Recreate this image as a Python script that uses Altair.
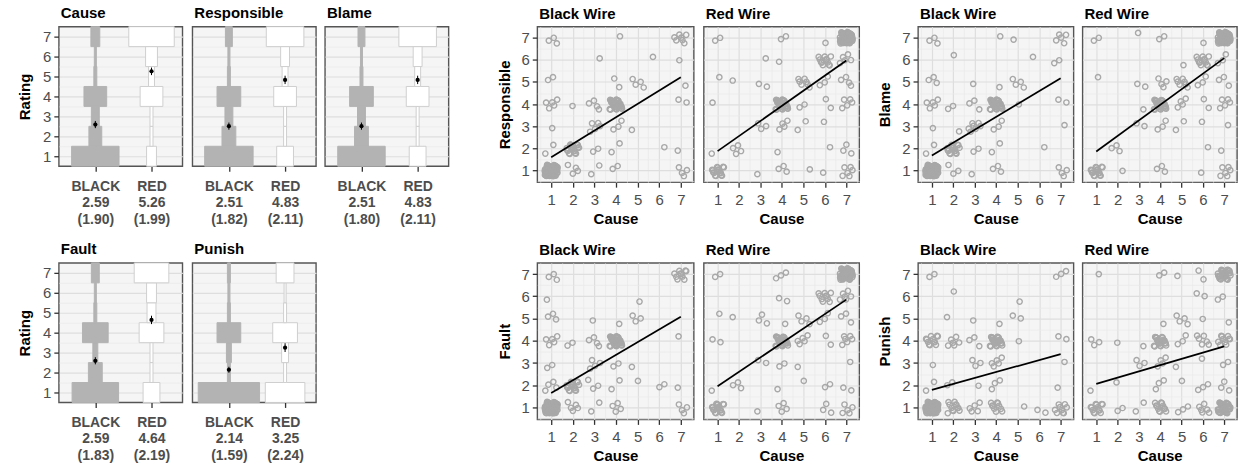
import json
import altair as alt
import pandas as pd

FONT = "Liberation Sans"
LABEL_GRAY = "#4d4d4d"
MAJOR = "#dedede"
MINOR = "#eaeaea"

levels = [1, 2, 3, 4, 5, 6, 7]
conditions = ["BLACK", "RED"]

# ---- left panels: histogram-violin widths (relative counts) per rating level 1..7
cause_black = [48, 13, 8, 23, 3, 2, 9]
cause_red = [10, 3, 3, 23, 6, 12, 46]
resp_black = [49, 14, 8, 24, 3, 2, 7]
resp_red = [17, 3, 3, 23, 6, 9, 38]
blame_black = [48, 14, 8, 24, 3, 2, 7]
blame_red = [17, 3, 3, 23, 6, 9, 38]
fault_black = [47, 14, 5, 26, 3, 2, 8]
fault_red = [17, 3, 3, 25, 9, 10, 35]
punish_black = [62, 3, 5, 24, 3, 2, 3]
punish_red = [40, 3, 7, 25, 3, 2, 18]

cause_mean, cause_sd, cause_se = [2.59, 5.26], [1.90, 1.99], [0.18, 0.19]
resp_mean, resp_sd, resp_se = [2.51, 4.83], [1.82, 2.11], [0.18, 0.21]
blame_mean, blame_sd, blame_se = [2.51, 4.83], [1.80, 2.11], [0.18, 0.21]
fault_mean, fault_sd, fault_se = [2.59, 4.64], [1.83, 2.19], [0.18, 0.21]
punish_mean, punish_sd, punish_se = [2.14, 3.25], [1.59, 2.24], [0.15, 0.22]

# ---- right panels: (cause, rating, count) cells
rb_cells = [(1,7,3),(1,5,2),(1,4,5),(1,3,1),(1,2,2),(1,1,73),
            (2,4,1),(2,2,18),(2,1,4),
            (3,6,1),(3,4,4),(3,3,5),(3,2,2),(3,1,2),
            (4,7,1),(4,5,2),(4,4,31),(4,3,3),(4,2,2),(4,1,2),
            (5,5,4),(5,3,1),
            (6,6,1),(6,2,1),
            (7,7,7),(7,6,1),(7,5,1),(7,4,2),(7,2,1),(7,1,4)]
rr_cells = [(1,7,2),(1,5,1),(1,4,1),(1,2,1),(1,1,16),
            (2,5,1),(2,2,4),
            (3,6,1),(3,5,2),(3,3,3),(3,1,1),
            (4,7,2),(4,6,1),(4,4,30),(4,3,4),(4,2,1),(4,1,3),
            (5,5,7),(5,4,2),(5,3,2),(5,1,1),
            (6,7,1),(6,6,12),(6,5,3),(6,4,2),(6,3,1),(6,2,1),(6,1,1),
            (7,7,60),(7,6,5),(7,5,4),(7,4,5),(7,2,3),(7,1,6)]
bb_cells = [(1,7,3),(1,5,3),(1,4,5),(1,3,1),(1,2,2),(1,1,74),
            (2,6,1),(2,4,2),(2,3,1),(2,2,16),(2,1,3),
            (3,5,1),(3,4,3),(3,3,7),(3,2,2),(3,1,1),
            (4,7,1),(4,5,1),(4,4,30),(4,3,3),(4,2,2),(4,1,3),
            (5,7,1),(5,5,4),(5,4,1),
            (6,6,1),(6,2,1),
            (7,7,5),(7,6,2),(7,4,2),(7,3,1),(7,1,4)]
br_cells = [(1,7,2),(1,5,1),(1,1,16),
            (2,2,3),(2,1,1),
            (3,7,1),(3,5,2),(3,4,1),(3,3,2),
            (4,7,2),(4,5,4),(4,4,28),(4,3,3),(4,1,3),
            (5,6,1),(5,5,7),(5,4,4),(5,3,2),
            (6,7,1),(6,6,12),(6,5,3),(6,4,2),(6,3,1),(6,2,1),(6,1,1),
            (7,7,60),(7,6,3),(7,5,3),(7,4,5),(7,3,1),(7,2,1),(7,1,6)]
fb_cells = [(1,7,3),(1,6,1),(1,5,3),(1,4,5),(1,3,2),(1,2,4),(1,1,71),
            (2,4,2),(2,2,16),(2,1,5),
            (3,5,1),(3,4,4),(3,3,4),(3,2,3),(3,1,2),
            (4,5,1),(4,4,32),(4,3,2),(4,2,2),(4,1,4),
            (5,6,1),(5,5,3),(5,3,1),(5,2,1),
            (6,2,2),
            (7,7,10),(7,4,1),(7,2,1),(7,1,4)]
fr_cells = [(1,7,2),(1,5,1),(1,4,2),(1,2,1),(1,1,17),
            (2,5,1),(2,2,3),
            (3,5,3),(3,3,2),(3,1,1),
            (4,7,3),(4,6,2),(4,5,1),(4,4,27),(4,3,2),(4,2,1),(4,1,4),
            (5,5,4),(5,4,5),(5,3,1),(5,2,1),
            (6,6,10),(6,5,3),(6,4,2),(6,2,2),(6,1,3),
            (7,7,53),(7,6,6),(7,5,3),(7,4,6),(7,3,1),(7,2,2),(7,1,5)]
pb_cells = [(1,7,2),(1,4,12),(1,3,1),(1,2,2),(1,1,69),
            (2,6,1),(2,5,1),(2,4,6),(2,2,2),(2,1,12),
            (3,5,1),(3,4,3),(3,3,3),(3,2,1),(3,1,5),
            (4,5,1),(4,4,22),(4,3,5),(4,2,3),(4,1,10),
            (5,6,1),(5,5,2),(5,4,1),(5,1,1),
            (6,1,2),
            (7,7,3),(7,4,2),(7,3,1),(7,2,1),(7,1,9)]
pr_cells = [(1,7,1),(1,4,3),(1,2,1),(1,1,13),
            (2,4,1),(2,2,1),(2,1,2),
            (3,4,1),(3,3,3),(3,1,2),
            (4,7,2),(4,5,1),(4,4,20),(4,3,4),(4,2,3),(4,1,12),
            (5,7,1),(5,5,4),(5,4,3),(5,3,1),(5,2,1),(5,1,3),
            (6,7,2),(6,6,2),(6,5,1),(6,4,6),(6,3,1),(6,2,3),(6,1,6),
            (7,7,27),(7,6,2),(7,5,1),(7,4,10),(7,3,2),(7,2,3),(7,1,34)]

HALF = "datum.value % 1 != 0"
grid_color = {"condition": {"test": HALF, "value": MINOR}, "value": MAJOR}
grid_width = {"condition": {"test": HALF, "value": 0.7}, "value": 1.2}
tick_op = {"condition": {"test": HALF, "value": 0}, "value": 1}
int_labels = "datum.value % 1 == 0 ? format(datum.value, 'd') : ''"


def title(text):
    return alt.TitleParams(text=text, anchor="start", frame="group", fontSize=15,
                           fontWeight="bold", font=FONT, color="black", offset=5, dx=2)


def violin_panel(name, black, red, mean, sd, se, show_y, width):
    rows = []
    for pos, cond, counts in [(1, conditions[0], black), (2, conditions[1], red)]:
        for lv, c in zip(levels, counts):
            rows.append({"pos": pos, "cond": cond, "level": lv, "count": c})
    df = pd.DataFrame(rows)
    stats = pd.DataFrame({"pos": [1, 2], "cond": conditions, "mean": mean, "se": se})
    lab0 = json.dumps([conditions[0], f"{mean[0]:.2f}", f"({sd[0]:.2f})"])
    lab1 = json.dumps([conditions[1], f"{mean[1]:.2f}", f"({sd[1]:.2f})"])
    xs = alt.Scale(domain=[0.35, 2.55], nice=False, zero=False)
    ys = alt.Scale(domain=[0.5, 7.5], nice=False, zero=False)
    xa = alt.Axis(values=[1, 2], labelExpr=f"datum.value == 1 ? {lab0} : {lab1}",
                  title=None, grid=True, gridColor=MAJOR, gridWidth=1.2,
                  labelFontWeight="bold", labelFontSize=14, labelLineHeight=16.5,
                  labelPadding=8, labelColor=LABEL_GRAY, labelFlush=False,
                  labelBaseline="top", labelOverlap=False)
    yvals = [v / 2 for v in range(2, 15)]
    if show_y:
        ya = alt.Axis(values=yvals, labelExpr=int_labels, title="Rating", grid=True,
                      gridColor=grid_color, gridWidth=grid_width, tickOpacity=tick_op,
                      labelOverlap=False, labelFlush=False, titlePadding=10)
    else:
        ya = alt.Axis(values=yvals, labels=False, ticks=False, title=None, grid=True,
                      gridColor=grid_color, gridWidth=grid_width)
    bars = alt.Chart(df).transform_calculate(
        x1="datum.pos - datum.count * 0.0088",
        x2="datum.pos + datum.count * 0.0088",
        y1="datum.level - 0.5",
        y2="datum.level + 0.5",
    ).mark_rect(strokeWidth=1).encode(
        x=alt.X("x1:Q", scale=xs, axis=xa),
        x2="x2:Q",
        y=alt.Y("y1:Q", scale=ys, axis=ya),
        y2="y2:Q",
        fill=alt.Fill("cond:N", scale=alt.Scale(domain=conditions, range=["#b3b3b3", "#ffffff"]), legend=None),
        stroke=alt.Stroke("cond:N", scale=alt.Scale(domain=conditions, range=["#b3b3b3", "#cfcfcf"]), legend=None),
    )
    err = alt.Chart(stats).transform_calculate(
        lo="datum.mean - datum.se", hi="datum.mean + datum.se"
    ).mark_rule(color="black", strokeWidth=1).encode(
        x=alt.X("pos:Q", scale=xs, axis=xa),
        y=alt.Y("lo:Q", scale=ys, axis=ya),
        y2="hi:Q",
    )
    pts = alt.Chart(stats).mark_point(filled=True, color="black", size=18, opacity=1).encode(
        x=alt.X("pos:Q", scale=xs, axis=xa),
        y=alt.Y("mean:Q", scale=ys, axis=ya),
    )
    return alt.layer(bars, err, pts).properties(width=width, height=140, title=title(name))


def scatter_panel(cells, name, ytitle, show_y, width, height):
    df = pd.DataFrame(cells, columns=["cause", "rating", "n"])
    df = df.loc[df.index.repeat(df["n"])].reset_index(drop=True)
    xs = alt.Scale(domain=[0.355, 7.6], nice=False, zero=False)
    ys = alt.Scale(domain=[0.47, 7.5], nice=False, zero=False)
    xvals = [v / 2 for v in range(1, 16)]
    yvals = [v / 2 for v in range(1, 15)]
    xa = alt.Axis(values=xvals, labelExpr=int_labels, title="Cause", grid=True,
                  gridColor=grid_color, gridWidth=grid_width, tickOpacity=tick_op,
                  labelOverlap=False, labelFlush=False, labelPadding=5, titlePadding=4)
    if show_y:
        ya = alt.Axis(values=yvals, labelExpr=int_labels, title=ytitle, grid=True,
                      gridColor=grid_color, gridWidth=grid_width, tickOpacity=tick_op,
                      labelOverlap=False, labelFlush=False, titlePadding=9)
    else:
        ya = alt.Axis(values=yvals, labels=False, ticks=False, title=None, grid=True,
                      gridColor=grid_color, gridWidth=grid_width)
    base = alt.Chart(df)
    pts = base.transform_window(
        i="row_number()", groupby=["cause", "rating"]
    ).transform_calculate(
        u="(datum.i * 0.6180339 + datum.cause * 0.37 + datum.rating * 0.53) % 1",
        v="(datum.i * 0.7548777 + datum.cause * 0.71 + datum.rating * 0.29) % 1",
        jx="datum.cause + 0.3 * (2 * datum.u - 1)",
        jy="datum.rating + 0.26 * (2 * datum.v - 1)",
    ).mark_point(shape="circle", filled=False, size=28, strokeWidth=1.4,
                 color="#a8a8a8", opacity=1, clip=True).encode(
        x=alt.X("jx:Q", scale=xs, axis=xa),
        y=alt.Y("jy:Q", scale=ys, axis=ya),
    )
    line = base.transform_regression("cause", "rating").mark_line(
        color="black", strokeWidth=1.7).encode(
        x=alt.X("cause:Q", scale=xs, axis=xa),
        y=alt.Y("rating:Q", scale=ys, axis=ya),
    )
    return alt.layer(pts, line).properties(width=width, height=height, title=title(name))


def spacer(w):
    return alt.Chart(pd.DataFrame({"v": [0]})).mark_point(opacity=0).encode(
        x=alt.value(0), y=alt.value(0)
    ).properties(width=w, height=1,
                 view=alt.ViewBackground(fill="transparent", stroke="transparent"))


top = [
    violin_panel("Cause", cause_black, cause_red, cause_mean, cause_sd, cause_se, True, 124),
    spacer(10),
    violin_panel("Responsible", resp_black, resp_red, resp_mean, resp_sd, resp_se, False, 124),
    spacer(9),
    violin_panel("Blame", blame_black, blame_red, blame_mean, blame_sd, blame_se, False, 124),
    spacer(89),
    scatter_panel(rb_cells, "Black Wire", "Responsible", True, 157, 156),
    spacer(10),
    scatter_panel(rr_cells, "Red Wire", "Responsible", False, 156, 156),
    spacer(59),
    scatter_panel(bb_cells, "Black Wire", "Blame", True, 156, 156),
    spacer(9),
    scatter_panel(br_cells, "Red Wire", "Blame", False, 155, 156),
]
bottom = [
    violin_panel("Fault", fault_black, fault_red, fault_mean, fault_sd, fault_se, True, 124),
    spacer(10),
    violin_panel("Punish", punish_black, punish_red, punish_mean, punish_sd, punish_se, False, 124),
    spacer(9),
    spacer(124),
    spacer(89),
    scatter_panel(fb_cells, "Black Wire", "Fault", True, 157, 157),
    spacer(10),
    scatter_panel(fr_cells, "Red Wire", "Fault", False, 156, 157),
    spacer(59),
    scatter_panel(pb_cells, "Black Wire", "Punish", True, 156, 157),
    spacer(9),
    scatter_panel(pr_cells, "Red Wire", "Punish", False, 155, 157),
]

chart = alt.concat(
    *top, *bottom, columns=13, spacing={"row": 81, "column": 0},
    bounds="flush", align="each",
).properties(
    padding={"left": 16, "top": 4, "right": 0, "bottom": 0},
    background="white",
).configure(font=FONT).configure_view(
    fill="#f5f5f5", stroke="#555555", strokeWidth=1.4
).configure_axis(
    domain=False, labelFont=FONT, labelFontSize=15, labelColor=LABEL_GRAY,
    titleFont=FONT, titleFontSize=15, titleFontWeight="bold", titleColor="black",
    tickColor="#333333", tickSize=5, tickWidth=1.3, labelPadding=3,
)

chart.save("out.html", embed_options={"renderer": "svg", "actions": False})
